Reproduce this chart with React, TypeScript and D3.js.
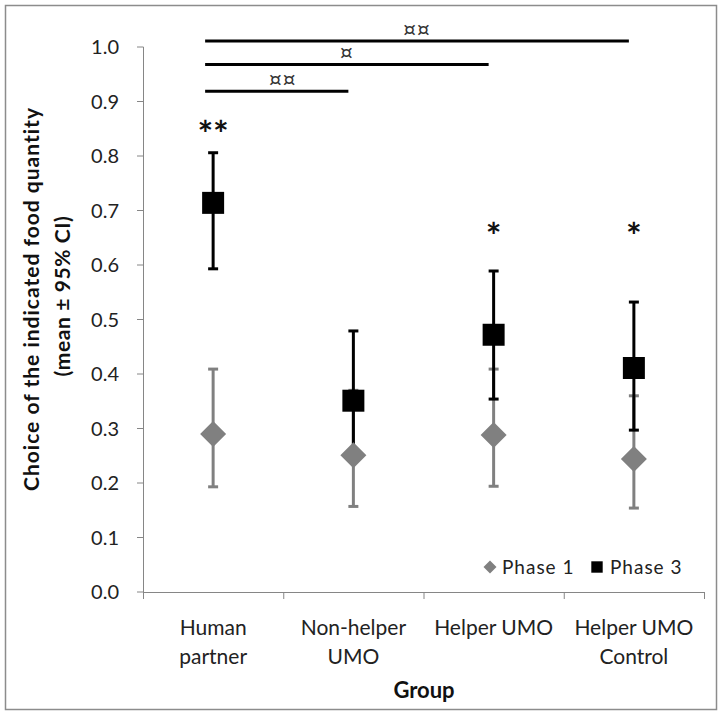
import React from 'react'
import * as d3 from 'd3'

const groupKeys = ['Human partner', 'Non-helper UMO', 'Helper UMO', 'Helper UMO Control']
const groupLines = [['Human', 'partner'], ['Non-helper', 'UMO'], ['Helper UMO'], ['Helper UMO', 'Control']]

const phase1Mean = [0.29, 0.251, 0.288, 0.244]
const phase1Low = [0.193, 0.157, 0.194, 0.154]
const phase1High = [0.409, 0.37, 0.409, 0.36]

const phase3Mean = [0.714, 0.351, 0.472, 0.411]
const phase3Low = [0.593, 0.258, 0.354, 0.297]
const phase3High = [0.806, 0.479, 0.589, 0.532]

const starLabels = ['**', '', '*', '*']
const starLevels = [0.855, null, 0.667, 0.668]

const brackets = [
  { from: 0, to: 3, level: 1.011, label: '¤¤' },
  { from: 0, to: 2, level: 0.968, label: '¤' },
  { from: 0, to: 1, level: 0.919, label: '¤¤' },
]

const yTicks = d3.range(0, 11).map((i) => i / 10)

const W = 726
const H = 716
const FONT = 'Lato, "Open Sans", sans-serif'
const GREY = '#808080'
const AXIS = '#868686'

const App = () => {
  const x = d3.scaleBand().domain(groupKeys).range([143, 704])
  const y = d3.scaleLinear().domain([0, 1]).range([592, 47])
  const cx = (i: number) => (x(groupKeys[i]) as number) + x.bandwidth() / 2
  const bounds = groupKeys.map((k) => x(k) as number).concat([704])

  const diamond = d3.symbol().type(d3.symbolSquare).size(338)()
  const square = d3.symbol().type(d3.symbolSquare).size(484)()
  const legendDiamond = d3.symbol().type(d3.symbolSquare).size(85)()
  const legendSquare = d3.symbol().type(d3.symbolSquare).size(130)()

  const errorBars = (lo: number[], hi: number[], color: string) =>
    groupKeys.map((k, i) => (
      <g key={k} stroke={color} strokeWidth={3}>
        <line x1={cx(i)} x2={cx(i)} y1={y(lo[i])} y2={y(hi[i])} />
        <line x1={cx(i) - 5} x2={cx(i) + 5} y1={y(lo[i])} y2={y(lo[i])} />
        <line x1={cx(i) - 5} x2={cx(i) + 5} y1={y(hi[i])} y2={y(hi[i])} />
      </g>
    ))

  return (
    <div style={{ position: 'absolute', left: 0, top: 0 }}>
      <svg width={W} height={H} style={{ display: 'block', background: '#fff' }} fontFamily={FONT}>
        <rect x={5.5} y={5.5} width={711} height={704} fill="#fff" stroke="#8c8c8c" strokeWidth={1.5} />

        {/* y axis */}
        <line x1={143.5} x2={143.5} y1={y(1)} y2={y(0)} stroke={AXIS} />
        {yTicks.map((t) => (
          <g key={t}>
            <line x1={137} x2={143.5} y1={y(t)} y2={y(t)} stroke={AXIS} />
            <text x={119} y={y(t)} dy="0.36em" textAnchor="end" fontSize={20} fill="#222">
              {d3.format('.1f')(t)}
            </text>
          </g>
        ))}

        {/* x axis */}
        <line x1={143} x2={704} y1={y(0) + 0.5} y2={y(0) + 0.5} stroke={AXIS} />
        {bounds.map((b, i) => (
          <line key={i} x1={b + 0.5} x2={b + 0.5} y1={y(0)} y2={y(0) + 7} stroke={AXIS} />
        ))}
        {groupLines.map((lines, i) => (
          <text key={i} x={cx(i)} textAnchor="middle" fontSize={21} fill="#222">
            {lines.map((l, j) => (
              <tspan key={j} x={cx(i)} y={635 + j * 29}>{l}</tspan>
            ))}
          </text>
        ))}
        <text x={424} y={698} textAnchor="middle" fontSize={22} fontWeight="bold" fill="#111">Group</text>

        {/* y title */}
        <g transform="translate(32,299) rotate(-90)">
          <text textAnchor="middle" dy="0.35em" fontSize={21} fontWeight="bold" fill="#111" letterSpacing={1}>
            Choice of the indicated food quantity
          </text>
        </g>
        <g transform="translate(63,296) rotate(-90)">
          <text textAnchor="middle" dy="0.35em" fontSize={21} fontWeight="bold" fill="#111" letterSpacing={0.6}>
            (mean ± 95% CI)
          </text>
        </g>

        {/* error bars and markers */}
        {errorBars(phase1Low, phase1High, GREY)}
        {errorBars(phase3Low, phase3High, '#000')}
        {phase1Mean.map((v, i) => (
          <path key={i} d={diamond as string} transform={`translate(${cx(i)},${y(v)}) rotate(45)`} fill={GREY} />
        ))}
        {phase3Mean.map((v, i) => (
          <path key={i} d={square as string} transform={`translate(${cx(i)},${y(v)})`} fill="#000" />
        ))}

        {/* significance stars */}
        {starLabels.map((s, i) =>
          s && starLevels[i] !== null ? (
            <text key={i} x={cx(i)} y={y(starLevels[i] as number) + 21} textAnchor="middle" fontSize={37} fontWeight="bold" fill="#111">
              {s}
            </text>
          ) : null
        )}

        {/* comparison brackets */}
        {brackets.map((b, i) => {
          const x1 = cx(b.from) - 8
          const x2 = cx(b.to) - 5
          return (
            <g key={i}>
              <line x1={x1} x2={x2} y1={y(b.level)} y2={y(b.level)} stroke="#000" strokeWidth={3} />
              <text x={(x1 + x2) / 2 + (b.to === 1 ? 6 : 0)} y={y(b.level) - 5} textAnchor="middle" fontSize={20} fill="#333"
                fontFamily='"DejaVu Sans", sans-serif' letterSpacing={1}>
                {b.label}
              </text>
            </g>
          )
        })}

        {/* legend */}
        <path d={legendDiamond as string} transform="translate(490,567) rotate(45)" fill={GREY} />
        <text x={502} y={567} dy="0.36em" fontSize={19} fill="#222" letterSpacing={1}>Phase 1</text>
        <path d={legendSquare as string} transform="translate(597,567)" fill="#000" />
        <text x={610} y={567} dy="0.36em" fontSize={19} fill="#222" letterSpacing={1}>Phase 3</text>
      </svg>
    </div>
  )
}

export default App
